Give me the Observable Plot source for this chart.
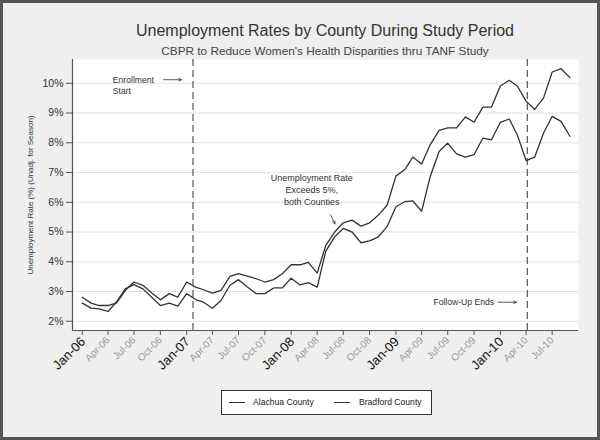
<!DOCTYPE html>
<html><head><meta charset="utf-8">
<script src="https://cdn.jsdelivr.net/npm/d3@7"></script>
<script src="https://cdn.jsdelivr.net/npm/@observablehq/plot@0.6"></script>
<style>
body{margin:0;background:#fff;font-family:"Liberation Sans",Arial,sans-serif;}
#wrap{position:relative;width:600px;height:440px;background:#efefef;overflow:hidden;}
#wrap svg{position:absolute;left:0;top:0;}
#title{position:absolute;left:72px;width:506px;top:23px;line-height:16px;text-align:center;font-size:16px;color:#333;white-space:nowrap;}
#subtitle{position:absolute;left:72px;width:506px;top:45px;line-height:12px;text-align:center;font-size:11.8px;color:#444;white-space:nowrap;}
#legend{position:absolute;left:221px;top:390px;width:209px;height:23px;background:#fff;border:1px solid #333;font-size:8.6px;color:#222;}
#legend .sw{position:absolute;top:11px;width:16px;height:0;border-top:1.3px solid #333;}
#legend .lb{position:absolute;top:6px;line-height:10px;white-space:nowrap;}
#border{position:absolute;left:0;top:0;width:600px;height:440px;box-sizing:border-box;border:3px solid #555;pointer-events:none;}
</style></head>
<body>
<div id="wrap">
  <div id="title">Unemployment Rates by County During Study Period</div>
  <div id="subtitle">CBPR to Reduce Women's Health Disparities thru TANF Study</div>
  <div id="legend"></div>
  <div id="border"></div>
</div>
<script>
// ---- data (monthly, Jan-06 .. Sep-10) ----
const firstMonth = "2006-01";
const counties = ["Alachua County", "Bradford County"];
const alachua = [2.61,2.44,2.42,2.33,2.65,3.10,3.23,3.09,2.81,2.53,2.61,2.51,
                 2.93,2.73,2.64,2.44,2.70,3.21,3.40,3.15,2.93,2.93,3.12,3.12,
                 3.45,3.22,3.30,3.15,4.36,4.84,5.12,5.00,4.64,4.70,4.84,5.18,
                 5.85,6.02,6.05,5.70,6.87,7.71,7.99,7.63,7.52,7.60,8.16,8.10,
                 8.69,8.80,8.27,7.40,7.52,8.33,8.89,8.72,8.22];
const bradford = [2.81,2.61,2.53,2.53,2.62,3.04,3.32,3.21,2.95,2.72,2.93,2.81,
                  3.32,3.15,3.06,2.95,3.04,3.51,3.60,3.52,3.43,3.32,3.40,3.60,
                  3.90,3.90,3.98,3.62,4.55,5.00,5.31,5.40,5.20,5.31,5.57,5.90,
                  6.88,7.10,7.52,7.29,7.94,8.42,8.50,8.50,8.87,8.69,9.20,9.20,
                  9.91,10.10,9.91,9.40,9.12,9.51,10.38,10.49,10.19];
const yTicks = [2,3,4,5,6,7,8,9,10];
const janLabels = ["Jan-06","Jan-07","Jan-08","Jan-09","Jan-10"];
const quarterLabels = ["Apr-06","Jul-06","Oct-06","Apr-07","Jul-07","Oct-07",
                       "Apr-08","Jul-08","Oct-08","Apr-09","Jul-09","Oct-09",
                       "Apr-10","Jul-10"];
const eventNames = ["Enrollment Start","Follow-Up Ends"];
const eventDates = ["2007-01-23","2010-04-05"];
const yLabel = "Unemployment Rate (%) (Unadj. for Season)";

// ---- build tables ----
const parseM = d3.utcParse("%Y-%m");
const parseD = d3.utcParse("%Y-%m-%d");
const parseTick = d3.utcParse("%b-%y");
const fmtTick = d3.utcFormat("%b-%y");
const m0 = parseM(firstMonth);
const rows = [];
[alachua, bradford].forEach((vals, k) => vals.forEach((v, i) =>
  rows.push({county: counties[k], date: d3.utcMonth.offset(m0, i), value: v})));
const events = eventNames.map((n, i) => ({name: n, date: parseD(eventDates[i])}));
const janTicks = janLabels.map(parseTick);
const qTicks = quarterLabels.map(parseTick);
const allTicks = janTicks.concat(qTicks);

const xDomain = [parseD("2005-11-28"), parseD("2010-10-01")];
const yDomain = [1.69, 10.8];

// annotation anchors in data space
const notesStart = [
  {text: "Enrollment", date: parseD("2006-04-18"), value: 10.11},
  {text: "Start", date: parseD("2006-04-18"), value: 9.73},
  {text: "Follow-Up Ends", date: parseD("2009-05-12"), value: 2.63}
];
const notesMid = [
  {text: "Unemployment Rate", date: parseD("2008-03-13"), value: 6.82},
  {text: "Exceeds 5%,", date: parseD("2008-03-13"), value: 6.42},
  {text: "both Counties", date: parseD("2008-03-13"), value: 6.01}
];
const arrows = [
  {x1: parseD("2006-10-12"), y1: 10.12, x2: parseD("2006-12-14"), y2: 10.12},
  {x1: parseD("2008-05-18"), y1: 5.58, x2: parseD("2008-06-02"), y2: 5.27},
  {x1: parseD("2009-12-24"), y1: 2.64, x2: parseD("2010-02-26"), y2: 2.64}
];

const font = "Liberation Sans, Arial, sans-serif";
const chart = Plot.plot({
  width: 600, height: 440,
  marginLeft: 72, marginRight: 22, marginTop: 59, marginBottom: 110,
  style: {background: "transparent", fontFamily: font, overflow: "visible"},
  x: {type: "utc", domain: xDomain},
  y: {domain: yDomain},
  marks: [
    Plot.frame({fill: "white", stroke: "none"}),
    Plot.gridY(yTicks, {stroke: "#e2e2e2", strokeOpacity: 1}),
    Plot.ruleX(events, {x: "date", stroke: "#333", strokeWidth: 1, strokeDasharray: "7,4"}),
    Plot.line(rows, {x: "date", y: "value", z: "county", stroke: "#333", strokeWidth: 1.3}),
    Plot.ruleY([yDomain[0]], {stroke: "#555", strokeWidth: 1.2}),
    Plot.ruleX([xDomain[0]], {stroke: "#555", strokeWidth: 1.2}),
    Plot.axisY(yTicks, {tickFormat: d => d + "%", tickSize: 6, tickPadding: 3, fontSize: 10.5,
      fill: "#333", stroke: "#555", label: null}),
    Plot.axisX(allTicks, {tickFormat: () => "", tickSize: 5, stroke: "#555", label: null}),
    Plot.text(janTicks, {x: d => d, frameAnchor: "bottom", text: fmtTick, rotate: -45,
      textAnchor: "end", lineAnchor: "middle", dy: 9, dx: 1, fontSize: 13, fill: "#111"}),
    Plot.text(qTicks, {x: d => d, frameAnchor: "bottom", text: fmtTick, rotate: -45,
      textAnchor: "end", lineAnchor: "middle", dy: 8, dx: 0, fontSize: 10, fill: "#9a9a9a"}),
    Plot.text([yLabel], {frameAnchor: "left", dx: -42, rotate: -90, textAnchor: "middle",
      fontSize: 8, fill: "#333"}),
    Plot.text(notesStart, {x: "date", y: "value", text: "text", textAnchor: "start",
      fontSize: 8.6, fill: "#333", lineAnchor: "middle"}),
    Plot.text(notesMid, {x: "date", y: "value", text: "text", textAnchor: "middle",
      fontSize: 9, fill: "#333", lineAnchor: "middle"}),
    Plot.arrow(arrows, {x1: "x1", y1: "y1", x2: "x2", y2: "y2", stroke: "#444",
      strokeWidth: 0.9, headLength: 5, headAngle: 50})
  ]
});
document.getElementById("wrap").insertBefore(chart, document.getElementById("title"));

// legend
const lg = document.getElementById("legend");
const sw = [7, 112], lb = [31, 137];
counties.forEach((c, i) => {
  const s = document.createElement("div"); s.className = "sw"; s.style.left = sw[i] + "px"; lg.appendChild(s);
  const t = document.createElement("div"); t.className = "lb"; t.style.left = lb[i] + "px"; t.textContent = c; lg.appendChild(t);
});
</script>
</body></html>
